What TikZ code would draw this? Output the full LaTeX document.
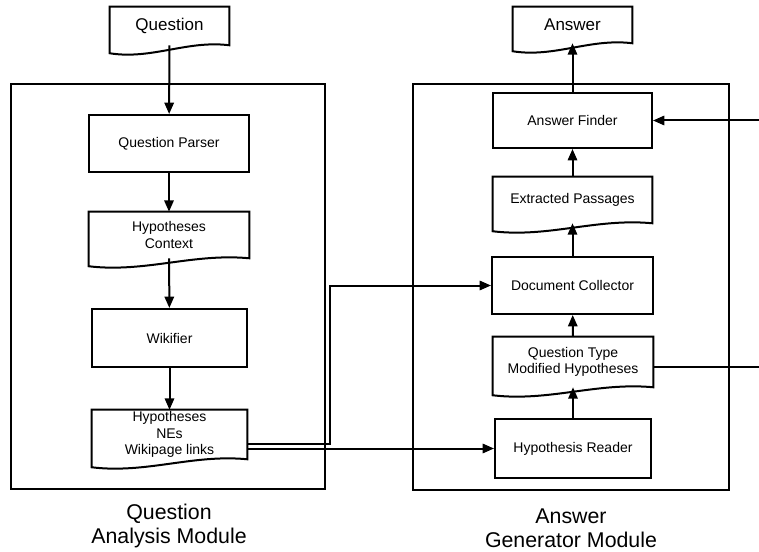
\documentclass[tikz,border=0pt]{standalone}
\usepackage{fontspec}
\setmainfont{Liberation Sans}
\usetikzlibrary{arrows.meta,calc}

\newcommand{\docoutline}[1]{%
	\draw[box] let \p1=(#1.south west), \p2=(#1.south east) in
		(\p2) -- (#1.north east) -- (#1.north west) -- (\x1,\y1-6pt)
		.. controls ({\x1+0.35*(\x2-\x1)},\y1-11pt) and ({\x1+0.65*(\x2-\x1)},\y1+4pt) .. (\p2) -- cycle;}

\begin{document}
\begin{tikzpicture}[
				x=0.75pt, y=-0.75pt,
				box/.style={line width=1.5pt},
				module/.style={rectangle, draw, line width=1.5pt, inner sep=0},
				proc/.style={rectangle, draw, line width=1.5pt, inner sep=0, align=center, font=\fontsize{10.5}{12.5}\selectfont},
				docnode/.style={rectangle, inner sep=0, align=center, font=\fontsize{10.5}{12.5}\selectfont},
				endpoint/.style={rectangle, inner sep=0, align=center, font=\fontsize{12.75}{15}\selectfont},
				modlabel/.style={align=center, font=\fontsize{16}{18}\selectfont},
				arr/.style={line width=1.5pt, -{Triangle[length=8.5pt,width=7pt]}},
			]
			\useasboundingbox (0,0) rectangle (759,552);
			\node[module, minimum width=235.5pt, minimum height=303.75pt] (qamod) at (168,286.5) {};
			\node[module, minimum width=237pt, minimum height=304.5pt] (agmod) at (571,287) {};
			\node[modlabel] (qamodlabel) at (169,526) {Question\\Analysis Module};
			\node[modlabel] (agmodlabel) at (571,528) {Answer\\Generator Module};

			\node[endpoint, minimum width=89.25pt, minimum height=28.5pt] (question) at (169.5,26) {Question};
			\node[proc, minimum width=120pt, minimum height=42.75pt] (qparser) at (169,143.5) {Question Parser};
			\node[docnode, minimum width=120pt, minimum height=34.5pt] (hypctx) at (169,235) {Hypotheses\\Context};
			\node[proc, minimum width=116.25pt, minimum height=43.5pt] (wikifier) at (169.5,338) {Wikifier};
			\node[docnode, minimum width=116.25pt, minimum height=36.75pt] (hypnes) at (169.5,434.5) {Hypotheses\\NEs\\Wikipage links};

			\node[endpoint, minimum width=89.25pt, minimum height=27pt] (answer) at (572.5,25) {Answer};
			\node[proc, minimum width=119.25pt, minimum height=41.25pt] (afinder) at (572.5,120.5) {Answer Finder};
			\node[docnode, minimum width=119.25pt, minimum height=34.5pt] (extpass) at (572.5,200) {Extracted Passages};
			\node[proc, minimum width=120.75pt, minimum height=42.75pt] (doccoll) at (572.5,285.5) {Document Collector};
			\node[docnode, minimum width=120pt, minimum height=37.5pt] (qtype) at (573,362) {Question Type\\Modified Hypotheses};
			\node[proc, minimum width=117pt, minimum height=44.25pt] (hreader) at (573,448.5) {Hypothesis Reader};

			\docoutline{question}
			\docoutline{hypctx}
			\docoutline{hypnes}
			\docoutline{answer}
			\docoutline{extpass}
			\docoutline{qtype}

			\coordinate (jog) at (330,443.5);
			\coordinate (qtout) at (759,367);
			\coordinate (afin) at (759,120.5);

			\draw[arr] (question) -- (qparser);
			\draw[arr] (qparser) -- (hypctx);
			\draw[arr] (hypctx) -- (wikifier);
			\draw[arr] (wikifier) -- (hypnes);
			\draw[arr] (hypnes.east |- jog) -- (jog) |- (doccoll.west);
			\draw[arr] (hypnes.east |- hreader.west) -- (hreader.west);
			\draw[arr] (hreader) -- (qtype);
			\draw[arr] (qtype) -- (doccoll);
			\draw[arr] (doccoll) -- (extpass);
			\draw[arr] (extpass) -- (afinder);
			\draw[arr] (afinder) -- (answer);
			\draw[box] (qtype.east |- qtout) -- (qtout);
			\draw[arr] (afin) -- (afinder.east);
			\end{tikzpicture}
\end{document}
